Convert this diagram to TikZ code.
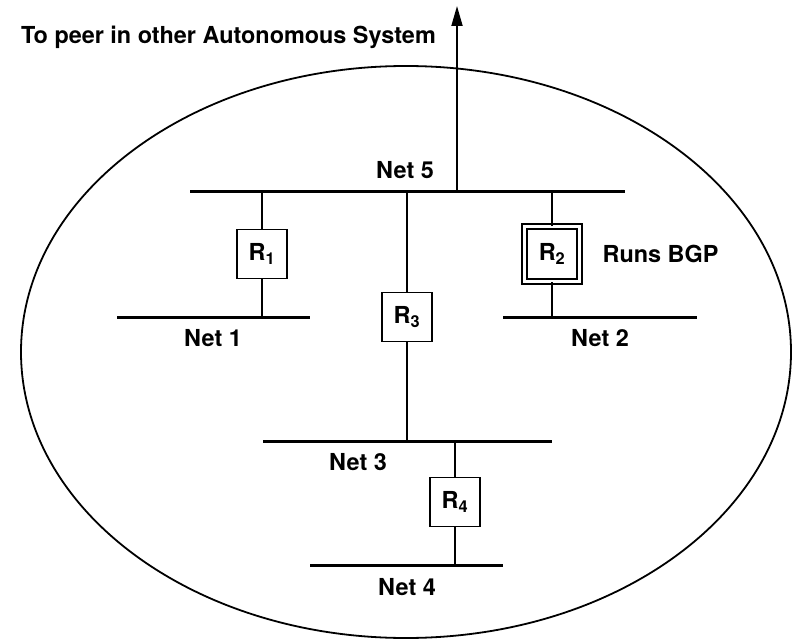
\documentclass[tikz,border=0pt]{standalone}
\usepackage{fontspec}
\setsansfont{TeX Gyre Heros}
\usetikzlibrary{positioning, arrows.meta}

\begin{document}
\begin{tikzpicture}[
	x=1bp, y=-1bp,
	router/.style={draw, rectangle, line width=1.8bp, minimum width=50bp, minimum height=49bp, inner sep=0pt},
	bgprouter/.style={router, double, double distance=3.6bp, minimum width=55bp, minimum height=55bp},
	net/.style={line width=3bp},
	link/.style={line width=1.8bp},
	arrow/.style={-{Triangle[length=20bp, width=11bp]}, line width=1.8bp},
	lbl/.style={inner sep=0pt},
	font=\sffamily\bfseries\fontsize{23.5}{27}\selectfont
	]

	\useasboundingbox (0,0) rectangle (792,639);

	% the autonomous system
	\draw[line width=1.8bp] (406,352) ellipse [x radius=385, y radius=286];

	% networks
	\coordinate (n5w) at (190,192);  \coordinate (n5e) at (625,192);
	\coordinate (n1w) at (117,317);  \coordinate (n1e) at (310,317);
	\coordinate (n2w) at (503,317);  \coordinate (n2e) at (697,317);
	\coordinate (n3w) at (263,441);  \coordinate (n3e) at (552,441);
	\coordinate (n4w) at (310,565);  \coordinate (n4e) at (503,565);
	\foreach \n in {5,1,2,3,4}
		\draw[net] (n\n w) -- (n\n e);

	% routers
	\node[router] (r1) at (262,254) {R\textsubscript{1}};
	\node[bgprouter] (r2) at (552,254) {R\textsubscript{2}};
	\node[router] (r3) at (407,317) {R\textsubscript{3}};
	\node[router] (r4) at (455,502) {R\textsubscript{4}};

	\draw[link] (r1) -- (r1 |- n5w);  \draw[link] (r1) -- (r1 |- n1w);
	\draw[link] (r2) -- (r2 |- n5w);  \draw[link] (r2) -- (r2 |- n2w);
	\draw[link] (r3) -- (r3 |- n5w);  \draw[link] (r3) -- (r3 |- n3w);
	\draw[link] (r4) -- (r4 |- n3w);  \draw[link] (r4) -- (r4 |- n4w);

	% labels
	\node[lbl] (net5) at (405,170) {Net 5};
	\node[lbl] (net1) at (213,338) {Net 1};
	\node[lbl] (net2) at (600,338) {Net 2};
	\node[lbl] (net3) at (358,462) {Net 3};
	\node[lbl] (net4) at (407,587) {Net 4};
	\node[lbl, right=22bp of r2] (bgp) {Runs BGP};

	% link to the other AS
	\coordinate (peer) at (457,6);
	\draw[arrow] (peer |- n5w) -- (peer);
	\node[lbl, anchor=east] (peertext) at (436,37) {To peer in other Autonomous System};

\end{tikzpicture}
\end{document}
